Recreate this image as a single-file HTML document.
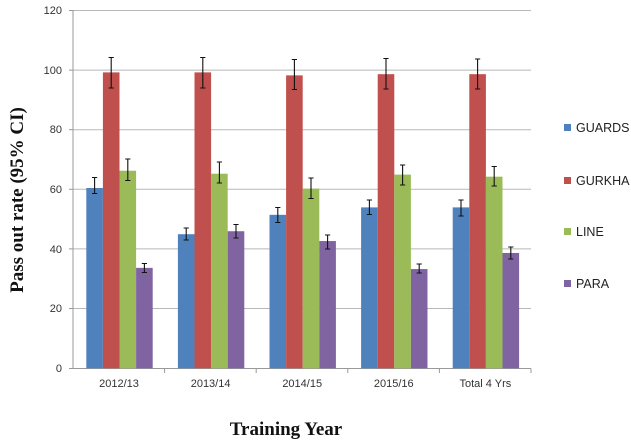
<!DOCTYPE html>
<html><head><style>
body{margin:0;background:#fff;}
svg{display:block;}
.t{font-family:"Liberation Sans",sans-serif;font-size:11px;fill:#333;}
.l{font-family:"Liberation Sans",sans-serif;font-size:12.5px;fill:#222;}
.b{font-family:"Liberation Serif",serif;font-weight:bold;font-size:19px;fill:#111;}
</style></head><body>
<svg width="631" height="445" xmlns="http://www.w3.org/2000/svg">
<g stroke="#b8b8b8" stroke-width="1">
<line x1="73" y1="10.5" x2="531" y2="10.5"/>
<line x1="73" y1="70.1" x2="531" y2="70.1"/>
<line x1="73" y1="129.7" x2="531" y2="129.7"/>
<line x1="73" y1="189.3" x2="531" y2="189.3"/>
<line x1="73" y1="248.9" x2="531" y2="248.9"/>
<line x1="73" y1="308.5" x2="531" y2="308.5"/>
</g>
<g stroke="#999" stroke-width="1">
<line x1="73" y1="10" x2="73" y2="368.5"/>
<line x1="73" y1="368.5" x2="531" y2="368.5"/>
<line x1="69" y1="10.5" x2="73" y2="10.5"/><line x1="69" y1="70.1" x2="73" y2="70.1"/><line x1="69" y1="129.7" x2="73" y2="129.7"/><line x1="69" y1="189.3" x2="73" y2="189.3"/><line x1="69" y1="248.9" x2="73" y2="248.9"/><line x1="69" y1="308.5" x2="73" y2="308.5"/><line x1="69" y1="368.5" x2="73" y2="368.5"/>
<line x1="164.6" y1="368.5" x2="164.6" y2="373"/><line x1="256.2" y1="368.5" x2="256.2" y2="373"/><line x1="347.8" y1="368.5" x2="347.8" y2="373"/><line x1="439.4" y1="368.5" x2="439.4" y2="373"/><line x1="531" y1="368.5" x2="531" y2="373"/>
</g>
<g class="t" text-anchor="end">
<text x="62" y="14">120</text><text x="62" y="74">100</text><text x="62" y="133">80</text><text x="62" y="193">60</text><text x="62" y="253">40</text><text x="62" y="312">20</text><text x="62" y="372">0</text>
</g>
<g class="t" text-anchor="middle">
<text x="119" y="387">2012/13</text><text x="210.6" y="387">2013/14</text><text x="302.2" y="387">2014/15</text><text x="393.8" y="387">2015/16</text><text x="485.4" y="387">Total 4 Yrs</text>
</g>
<g transform="translate(73,368.3) scale(1,-2.98)">
<g fill="#4f81bd">
<rect x="13.3" y="0" width="16.6" height="60.5"/><rect x="104.9" y="0" width="16.6" height="45"/><rect x="196.5" y="0" width="16.6" height="51.5"/><rect x="288.1" y="0" width="16.6" height="54"/><rect x="379.7" y="0" width="16.6" height="54"/>
</g>
<g fill="#c0504d">
<rect x="29.9" y="0" width="16.6" height="99.3"/><rect x="121.5" y="0" width="16.6" height="99.3"/><rect x="213.1" y="0" width="16.6" height="98.3"/><rect x="304.7" y="0" width="16.6" height="98.7"/><rect x="396.3" y="0" width="16.6" height="98.7"/>
</g>
<g fill="#9bbb59">
<rect x="46.5" y="0" width="16.6" height="66.3"/><rect x="138.1" y="0" width="16.6" height="65.3"/><rect x="229.7" y="0" width="16.6" height="60.3"/><rect x="321.3" y="0" width="16.6" height="65"/><rect x="412.9" y="0" width="16.6" height="64.3"/>
</g>
<g fill="#8064a2">
<rect x="63.1" y="0" width="16.6" height="33.7"/><rect x="154.7" y="0" width="16.6" height="46"/><rect x="246.3" y="0" width="16.6" height="42.7"/><rect x="337.9" y="0" width="16.6" height="33.3"/><rect x="429.5" y="0" width="16.6" height="38.7"/>
</g>
</g>
<g class="l">
<rect x="564" y="124" width="7" height="7" fill="#4f81bd"/><text x="576" y="132">GUARDS</text>
<rect x="564" y="177" width="7" height="7" fill="#c0504d"/><text x="576" y="185">GURKHA</text>
<rect x="564" y="228" width="7" height="7" fill="#9bbb59"/><text x="576" y="236">LINE</text>
<rect x="564" y="280" width="7" height="7" fill="#8064a2"/><text x="576" y="288">PARA</text>
</g>
<text class="b" x="286" y="435" text-anchor="middle">Training Year</text>
<text class="b" transform="translate(23,200) rotate(-90)" text-anchor="middle">Pass out rate (95% CI)</text>
<g stroke="#111" stroke-width="1.1">
<path d="M94.6 177.5V193.5M92 177.5h5.2M92 193.5h5.2
M111.2 57.5V88M108.6 57.5h5.2M108.6 88h5.2
M127.8 159V180.5M125.2 159h5.2M125.2 180.5h5.2
M144.4 263.5V272.5M141.8 263.5h5.2M141.8 272.5h5.2
M186.2 228V240M183.6 228h5.2M183.6 240h5.2
M202.8 57.5V88M200.2 57.5h5.2M200.2 88h5.2
M219.4 162V183M216.8 162h5.2M216.8 183h5.2
M236 224.5V238M233.4 224.5h5.2M233.4 238h5.2
M277.8 207.5V222.5M275.2 207.5h5.2M275.2 222.5h5.2
M294.4 59.5V89.5M291.8 59.5h5.2M291.8 89.5h5.2
M311 178V198.5M308.4 178h5.2M308.4 198.5h5.2
M327.6 235V249M325 235h5.2M325 249h5.2
M369.4 200V214.5M366.8 200h5.2M366.8 214.5h5.2
M386 58.5V89M383.4 58.5h5.2M383.4 89h5.2
M402.6 165V185M400 165h5.2M400 185h5.2
M419.2 264V273M416.6 264h5.2M416.6 273h5.2
M461 200V216M458.4 200h5.2M458.4 216h5.2
M477.6 59V89M475 59h5.2M475 89h5.2
M494.2 166.5V186M491.6 166.5h5.2M491.6 186h5.2
M510.8 247V259M508.2 247h5.2M508.2 259h5.2" fill="none"/>
</g>
</svg>
</body></html>
